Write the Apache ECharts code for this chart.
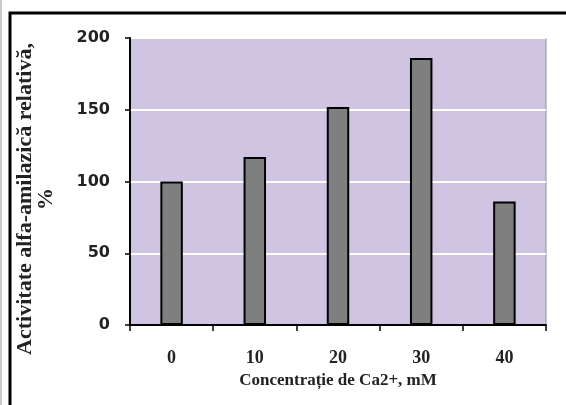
<!DOCTYPE html>
<html>
<head>
<meta charset="utf-8">
<script src="https://cdn.jsdelivr.net/npm/echarts@6/dist/echarts.min.js"></script>
<style>
  html, body { margin: 0; padding: 0; background: #ffffff; }
  #chart { width: 566px; height: 405px; }
</style>
</head>
<body>
<div id="chart"></div>
<script>
// Ca2+ concentration (mM) and relative alpha-amylase activity (%)
const concentrations = ['0', '10', '20', '30', '40'];
const activity = [100, 117, 152, 186, 86];
const yTicks = [0, 50, 100, 150, 200];

const chart = echarts.init(document.getElementById('chart'), null, { renderer: 'canvas' });

chart.setOption({
  backgroundColor: '#ffffff',
  animation: false,
  grid: {
    left: 130, right: 20, top: 38, bottom: 80,
    show: true,
    backgroundColor: '#cfc4e2',
    borderColor: '#8f8f99',
    borderWidth: 1
  },
  xAxis: {
    type: 'category',
    data: concentrations,
    axisLine: { lineStyle: { color: '#000', width: 2 } },
    axisTick: { show: true, length: 6, lineStyle: { color: '#000', width: 1.5 } },
    axisLabel: {
      margin: 24,
      fontFamily: 'Liberation Serif',
      fontWeight: 'bold',
      fontSize: 18,
      color: '#222'
    },
    name: 'Concentrație de Ca2+, mM',
    nameLocation: 'middle',
    nameGap: 47,
    nameTextStyle: {
      fontFamily: 'Liberation Serif',
      fontWeight: 'bold',
      fontSize: 17,
      color: '#222'
    }
  },
  yAxis: {
    type: 'value',
    min: yTicks[0],
    max: yTicks[yTicks.length - 1],
    interval: yTicks[1] - yTicks[0],
    axisLine: { show: true, lineStyle: { color: '#000', width: 2 } },
    axisTick: { show: true, length: 5, lineStyle: { color: '#000', width: 1.5 } },
    axisLabel: {
      margin: 20,
      fontFamily: 'DejaVu Sans',
      fontWeight: 'bold',
      fontSize: 16,
      color: '#222'
    },
    splitLine: { show: true, lineStyle: { color: '#ffffff', width: 2 } }
  },
  series: [{
    type: 'bar',
    data: activity,
    barWidth: '27%',
    itemStyle: { color: '#7f7f7f', borderColor: '#000', borderWidth: 2 }
  }],
  graphic: [
    {
      type: 'rect',
      shape: { x: 10, y: 13, width: 620, height: 500 },
      style: { fill: null, stroke: '#000', lineWidth: 3 },
      silent: true
    },
    {
      type: 'line',
      shape: { x1: 1, y1: 0, x2: 1, y2: 405 },
      style: { stroke: '#999', lineWidth: 1 },
      silent: true
    },
    {
      type: 'text',
      x: 36, y: 199,
      rotation: Math.PI / 2,
      style: {
        text: 'Activitate alfa-amilazică relativă,\n%',
        align: 'center',
        verticalAlign: 'middle',
        font: 'bold 22px "Liberation Serif"',
        lineHeight: 21,
        fill: '#222'
      },
      silent: true
    }
  ]
});
</script>
</body>
</html>
